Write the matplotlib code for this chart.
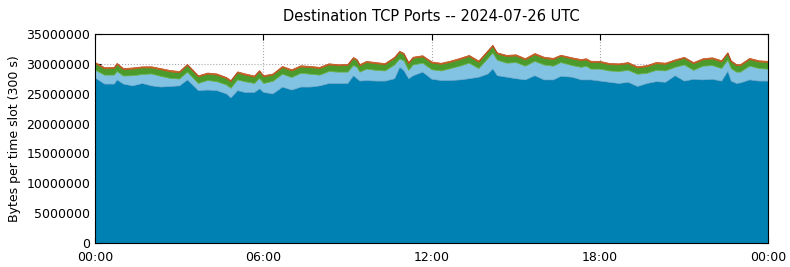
import numpy as np
import matplotlib.pyplot as plt
from matplotlib.ticker import FuncFormatter

# time of day in hours
hours = [0, 0.33, 0.67, 0.77, 1.0, 1.33, 1.67, 2.0, 2.33, 2.67, 3.0, 3.28, 3.67, 4.0,
         4.33, 4.67, 4.83, 5.07, 5.33, 5.67, 5.85, 6.0, 6.33, 6.67, 7.0, 7.33, 7.67, 8.0,
         8.33, 8.67, 9.0, 9.2, 9.33, 9.43, 9.67, 10.0, 10.33, 10.67, 10.85, 11.0, 11.17, 11.33, 11.67, 12.0,
         12.33, 12.67, 13.0, 13.33, 13.67, 14.0, 14.17, 14.33, 14.67, 15.0, 15.33, 15.67, 16.0,
         16.33, 16.6, 17.0, 17.33, 17.5, 17.67, 18.0, 18.33, 18.67, 19.0, 19.33, 19.67, 20.0,
         20.33, 20.67, 21.0, 21.33, 21.67, 22.0, 22.33, 22.55, 22.67, 22.86, 23.0, 23.33, 23.67, 24.0]

# bytes per slot, in millions
port_main = [27.7, 26.7, 26.7, 27.4, 26.7, 26.4, 26.8, 26.4, 26.2, 26.3, 26.4, 27.4, 25.6, 25.7,
             25.6, 25.06, 24.4, 25.6, 25.3, 25.3, 25.9, 25.3, 25.06, 26.2, 25.7, 26.2, 26.2, 26.4,
             26.8, 26.8, 26.8, 28.1, 27.6, 27.2, 27.3, 27.2, 27.2, 27.6, 29.5, 28.95, 27.6, 28.1, 28.7, 27.5,
             27.3, 27.3, 27.4, 27.6, 27.85, 28.4, 29.25, 28.1, 27.85, 27.6, 27.4, 28.1, 27.4,
             27.4, 28.0, 27.85, 27.4, 27.4, 27.4, 27.2, 27.0, 26.8, 27.0, 26.3, 26.8, 27.1,
             27.0, 28.1, 27.2, 27.5, 27.4, 27.5, 27.2, 28.85, 27.2, 26.8, 26.9, 27.4, 27.2, 27.2]

port_second = [1.3, 1.5, 1.5, 1.4, 1.35, 1.7, 1.5, 2.0, 1.8, 1.35, 1.15, 1.3, 1.2, 1.6,
               1.5, 1.5, 1.6, 1.8, 1.8, 1.5, 1.75, 1.5, 2.1, 2.15, 2.1, 2.3, 2.15, 1.8,
               2.0, 1.9, 1.9, 1.7, 1.9, 1.5, 1.9, 1.8, 1.7, 2.3, 1.4, 1.65, 1.4, 1.8, 1.5, 1.6,
               1.6, 2.0, 2.3, 2.6, 1.45, 2.6, 2.65, 2.6, 2.35, 2.7, 2.3, 2.4, 2.5,
               2.3, 2.3, 1.95, 2.1, 2.3, 1.8, 2.0, 1.9, 2.0, 2.0, 2.05, 1.7, 1.9,
               1.9, 1.4, 2.7, 1.5, 2.3, 2.3, 2.1, 1.85, 2.1, 1.9, 1.8, 2.3, 2.1, 2.0]

port_third = [1.1, 1.05, 1.1, 1.15, 1.05, 1.1, 1.1, 1.0, 1.1, 1.1, 1.05, 1.1, 1.1, 1.05,
              1.1, 1.05, 1.1, 1.15, 1.1, 1.05, 1.1, 1.1, 1.05, 1.1, 1.1, 1.05, 1.1, 1.1,
              1.1, 1.05, 1.1, 1.15, 1.1, 1.05, 1.1, 1.1, 1.05, 1.1, 1.1, 1.05, 1.1, 1.1, 1.05, 1.1,
              1.1, 1.05, 1.1, 1.1, 1.05, 1.1, 1.1, 1.05, 1.1, 1.1, 1.05, 1.1, 1.1,
              1.1, 1.05, 1.1, 1.1, 1.05, 1.1, 1.1, 1.05, 1.1, 1.1, 1.05, 1.1, 1.1,
              1.1, 1.05, 1.1, 1.1, 1.05, 1.1, 1.1, 1.05, 1.1, 1.1, 1.05, 1.1, 1.1, 1.1]

port_rest = [0.2, 0.18, 0.2, 0.22, 0.2, 0.2, 0.18, 0.2, 0.2, 0.22, 0.2, 0.2, 0.18, 0.2,
             0.2, 0.2, 0.18, 0.2, 0.22, 0.2, 0.2, 0.2, 0.18, 0.2, 0.2, 0.22, 0.2, 0.2,
             0.2, 0.18, 0.2, 0.2, 0.2, 0.22, 0.2, 0.2, 0.18, 0.2, 0.2, 0.2, 0.22, 0.2, 0.2, 0.2,
             0.18, 0.2, 0.2, 0.2, 0.22, 0.2, 0.2, 0.18, 0.2, 0.2, 0.2, 0.22, 0.2,
             0.2, 0.18, 0.2, 0.2, 0.2, 0.22, 0.2, 0.2, 0.18, 0.2, 0.2, 0.2, 0.22,
             0.2, 0.2, 0.18, 0.2, 0.2, 0.2, 0.22, 0.2, 0.2, 0.18, 0.2, 0.2, 0.2, 0.2]

tick_hours = [0, 6, 12, 18, 24]
tick_labels = ['00:00', '06:00', '12:00', '18:00', '00:00']

fig = plt.figure(figsize=(7.9, 2.67), dpi=100)
ax = fig.add_axes([0.1203, 0.0899, 0.8519, 0.7828])

layers = [np.array(s) * 1e6 for s in (port_main, port_second, port_third, port_rest)]
fills = ['#0081b3', '#82c2e3', '#4b9b2c', '#e07a1f']
edges = ['#1d6a8e', '#6aaed2', '#6fb544', '#b5481c']
polys = ax.stackplot(hours, *layers, colors=fills)
for p, ec in zip(polys, edges):
    p.set_edgecolor(ec)
    p.set_linewidth(0.5)

ax.set_xlim(0, 24)
ax.set_ylim(0, 35e6)
ax.set_xticks(tick_hours)
ax.set_xticklabels(tick_labels)
ax.set_yticks(np.arange(0, 35e6 + 1, 5e6))
ax.yaxis.set_major_formatter(FuncFormatter(lambda v, _: f'{int(v)}'))
ax.tick_params(direction='in', top=True, right=True, labelsize=9, length=4)
ax.tick_params(axis='x', pad=6)
ax.set_axisbelow(True)
ax.grid(True, linestyle=':', color='#aaaaaa', linewidth=0.8)
ax.set_ylabel('Bytes per time slot (300 s)', fontsize=9)
ax.set_title('Destination TCP Ports -- 2024-07-26 UTC', fontsize=10.5, pad=9)

fig.savefig('out.png', dpi=100)
